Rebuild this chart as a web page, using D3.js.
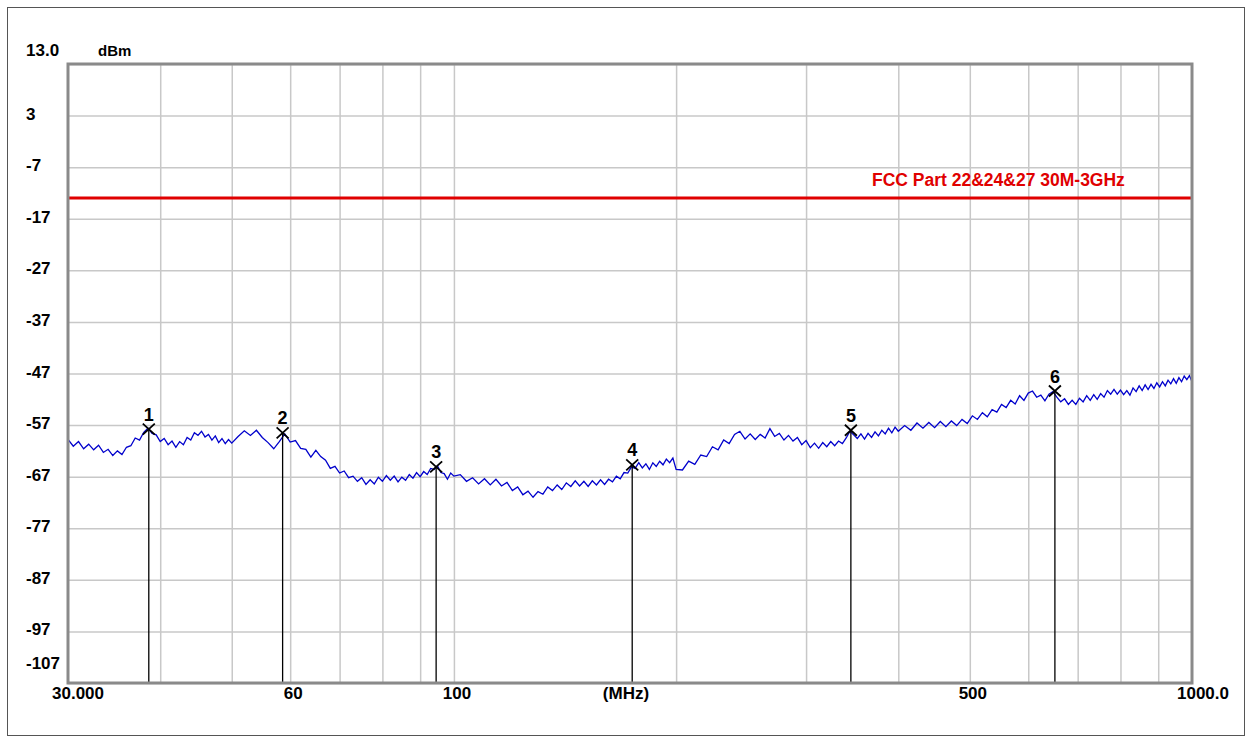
<!DOCTYPE html>
<html><head><meta charset="utf-8">
<script src="https://cdn.jsdelivr.net/npm/d3@7"></script>
<style>body{margin:0;background:#fff}svg{display:block}text{font-family:"Liberation Sans",Arial,sans-serif;font-weight:bold}</style>
</head><body><svg id="c" width="1252" height="743"></svg>
<script>
// ---- data ----
const freqMHz = [
 30,30.5,31,31.5,32,32.5,33,33.5,34,34.5,35,35.5,36,36.5,37,37.5,38,38.5,39,39.5,40,40.5,41,41.5,42,42.5,43,43.5,44,44.5,45,45.5,46,46.5,47,47.5,48,48.5,49,49.5,50,
 51,52,53,54,55,56,57,58,59,60,61,62,63,64,65,66,67,68,69,70,71,72,73,74,75,76,77,78,79,80,81,82,83,84,85,86,87,88,89,90,91,92,93,94,95,96,97,98,99,100,
 102,104,106,108,110,112,114,116,118,120,122,124,126,128,130,132,134,136,138,140,142,144,146,148,150,152,154,156,158,160,162,164,166,168,170,172,174,176,178,180,182,184,186,188,190,192,194,196,198,200,
 204,208,212,216,220,224,228,232,236,240,244,248,252,256,260,264,268,272,276,280,284,288,292,296,300,304,308,312,316,320,324,328,332,336,340,344,348,352,356,360,364,368,372,376,380,384,388,392,396,400,
 408,416,424,432,440,448,456,464,472,480,488,496,504,512,520,528,536,544,552,560,568,576,584,592,600,608,616,624,632,640,648,656,664,672,680,688,696,704,712,720,728,736,744,752,760,768,776,784,792,800,808,816,824,832,840,848,856,864,872,880,888,896,904,912,920,928,936,944,952,960,968,976,984,992,1000
];
const levelDbm = [
 -59.8,-61.1,-60.2,-61.6,-60.7,-61.8,-60.9,-62.3,-61.7,-62.9,-62.0,-62.7,-61.3,-61.0,-59.5,-59.9,-58.4,-57.6,-58.6,-58.9,-60.2,-59.6,-60.8,-60.1,-61.3,-60.2,-60.8,-59.4,-59.9,-58.5,-59.0,-58.2,-59.3,-58.8,-59.9,-59.1,-60.4,-59.6,-60.6,-59.8,-60.5,
 -59.2,-58.1,-59.0,-58.0,-59.4,-60.4,-61.6,-60.2,-58.7,-60.3,-60.0,-61.5,-61.7,-63.2,-61.9,-63.1,-63.8,-65.4,-65.0,-66.3,-65.9,-67.2,-66.9,-67.9,-67.2,-68.5,-67.6,-68.4,-67.1,-67.9,-66.8,-67.7,-66.9,-68.0,-67.1,-67.7,-66.6,-67.3,-66.2,-67.0,-66.0,-66.6,-65.4,-65.6,-64.9,-66.2,-66.4,-67.5,-66.3,-66.9,
 -66.6,-67.9,-67.2,-68.4,-67.4,-68.6,-67.5,-68.8,-68.1,-69.7,-69.0,-70.5,-69.8,-71.0,-69.9,-70.4,-69.0,-69.7,-68.6,-69.5,-68.2,-68.9,-67.8,-68.8,-67.9,-68.9,-67.8,-68.6,-67.6,-68.5,-67.5,-68.0,-66.9,-67.4,-66.2,-66.3,-65.1,-65.4,-64.3,-65.3,-64.5,-65.6,-64.3,-65.0,-64.0,-64.7,-63.6,-64.3,-63.4,-65.6,
 -65.7,-64.0,-64.6,-62.8,-63.1,-61.2,-61.8,-59.9,-60.6,-58.8,-58.2,-59.7,-58.7,-59.8,-58.8,-59.5,-57.7,-59.2,-58.6,-59.9,-59.0,-60.1,-59.4,-60.8,-60.0,-61.4,-60.5,-61.5,-60.4,-61.2,-60.2,-61.0,-60.1,-60.6,-59.5,-58.2,-58.9,-59.6,-58.7,-59.7,-58.6,-59.4,-58.3,-59.1,-58.0,-58.7,-57.6,-58.5,-57.4,-58.2,
 -57.1,-58.0,-56.6,-57.6,-56.5,-57.5,-56.3,-57.3,-56.2,-57.1,-55.9,-56.7,-55.2,-55.9,-54.6,-55.4,-54.0,-54.5,-53.0,-53.6,-52.2,-52.9,-51.3,-52.2,-50.8,-50.4,-51.6,-51.2,-52.3,-51.0,-50.5,-51.6,-52.5,-51.9,-53.0,-52.2,-53.0,-51.8,-52.5,-51.3,-52.2,-51.1,-52.0,-50.9,-51.6,-50.3,-51.0,-50.1,-51.0,-50.2,-51.1,-50.3,-51.2,-49.8,-50.5,-49.4,-50.3,-49.2,-50.1,-49.1,-49.9,-48.8,-49.6,-48.6,-49.4,-48.3,-49.0,-48.0,-48.9,-47.8,-48.6,-47.5,-48.2,-47.4,-48.6
];
const yTicks = [13,3,-7,-17,-27,-37,-47,-57,-67,-77,-87,-97,-107];
const yTickLabels = ["13.0","3","-7","-17","-27","-37","-47","-57","-67","-77","-87","-97","-107"];
const xGridValues = [40,50,60,70,80,90,100,200,300,400,500,600,700,800,900];
const xTickValues = [30,60,100,500,1000];
const xTickLabels = ["30.000","60","100","500","1000.0"];
const markerNames = ["1","2","3","4","5","6"];
const markerFreq = [38.6,58.6,94.6,174.4,345,652];
const markerLevel = [-57.8,-58.5,-65.1,-64.7,-58.0,-50.4];
const limitLevel = -13;
const limitLabel = "FCC Part 22&24&27 30M-3GHz";
const yUnit = "dBm";
const xUnit = "(MHz)";

// ---- drawing ----
const svg = d3.select("#c");
const L = 68, R = 1192, T = 64, B = 683;
const x = d3.scaleLog().domain([30,1000]).range([L,R]);
const y = d3.scaleLinear().domain([-107,13]).range([B,T]);

// outer frame
svg.append("rect").attr("x",7.5).attr("y",7.5).attr("width",1237).attr("height",728)
  .attr("fill","none").attr("stroke","#555").attr("stroke-width",1);

// grid via axes
const gy = svg.append("g").attr("transform",`translate(${L},0)`)
  .call(d3.axisLeft(y).tickValues(yTicks).tickSize(-(R-L)).tickFormat(""));
const gx = svg.append("g").attr("transform",`translate(0,${B})`)
  .call(d3.axisBottom(x).tickValues(xGridValues).tickSize(-(B-T)).tickFormat(""));
[gy,gx].forEach(g=>{g.select(".domain").remove();
  g.selectAll(".tick line").attr("stroke","#c8c8c8").attr("stroke-width",1.5);});

// y labels
svg.append("g").selectAll("text").data(yTicks).join("text")
  .attr("x",26)
  .attr("y",(d,i)=> i===0 ? 56 : (i===yTicks.length-1 ? y(d)-14 : y(d)+4))
  .attr("font-size",17).attr("fill","#000")
  .text((d,i)=>yTickLabels[i]);
svg.append("text").attr("x",98).attr("y",56).attr("font-size",15).text(yUnit);

// x labels
svg.append("g").selectAll("text").data(xTickValues).join("text")
  .attr("x",(d,i)=> i===0 ? x(d)-16 : (i===xTickValues.length-1 ? x(d)-15 : x(d)+3))
  .attr("y",699)
  .attr("text-anchor",(d,i)=> (i===0||i===xTickValues.length-1) ? "start" : "middle")
  .attr("font-size",17).attr("fill","#000")
  .text((d,i)=>xTickLabels[i]);
svg.append("text").attr("x",(L+R)/2-4).attr("y",699).attr("text-anchor","middle")
  .attr("font-size",17).text(xUnit);

// limit line
svg.append("line").attr("x1",L).attr("x2",R).attr("y1",y(limitLevel)).attr("y2",y(limitLevel))
  .attr("stroke","#e00000").attr("stroke-width",3);
svg.append("text").attr("x",872).attr("y",y(limitLevel)-12).attr("fill","#e00000")
  .attr("font-size",17.5).text(limitLabel);

// trace
svg.append("clipPath").attr("id","clip").append("rect").attr("x",L).attr("y",T).attr("width",R-L).attr("height",B-T);
const pts = freqMHz.map((f,i)=>[f,levelDbm[i]]);
svg.append("path").datum(pts).attr("clip-path","url(#clip)")
  .attr("fill","none").attr("stroke","#0000cc").attr("stroke-width",1.3)
  .attr("d", d3.line().x(d=>x(d[0])).y(d=>y(d[1])));

// markers
const mk = svg.append("g").selectAll("g").data(markerFreq).join("g")
  .attr("transform",(d,i)=>`translate(${x(d)},${y(markerLevel[i])})`);
mk.append("line").attr("x1",0).attr("x2",0).attr("y1",0).attr("y2",(d,i)=>B-y(markerLevel[i]))
  .attr("stroke","#000").attr("stroke-width",1.3);
mk.append("path").attr("d","M-6,-5.5L6,5.5M-6,5.5L6,-5.5").attr("stroke","#000").attr("stroke-width",1.8).attr("fill","none");
mk.append("text").attr("y",-8.5).attr("text-anchor","middle").attr("font-size",18).text((d,i)=>markerNames[i]);

// plot frame
svg.append("rect").attr("x",L).attr("y",T).attr("width",R-L).attr("height",B-T)
  .attr("fill","none").attr("stroke","#8a8a8a").attr("stroke-width",3);
</script></body></html>
